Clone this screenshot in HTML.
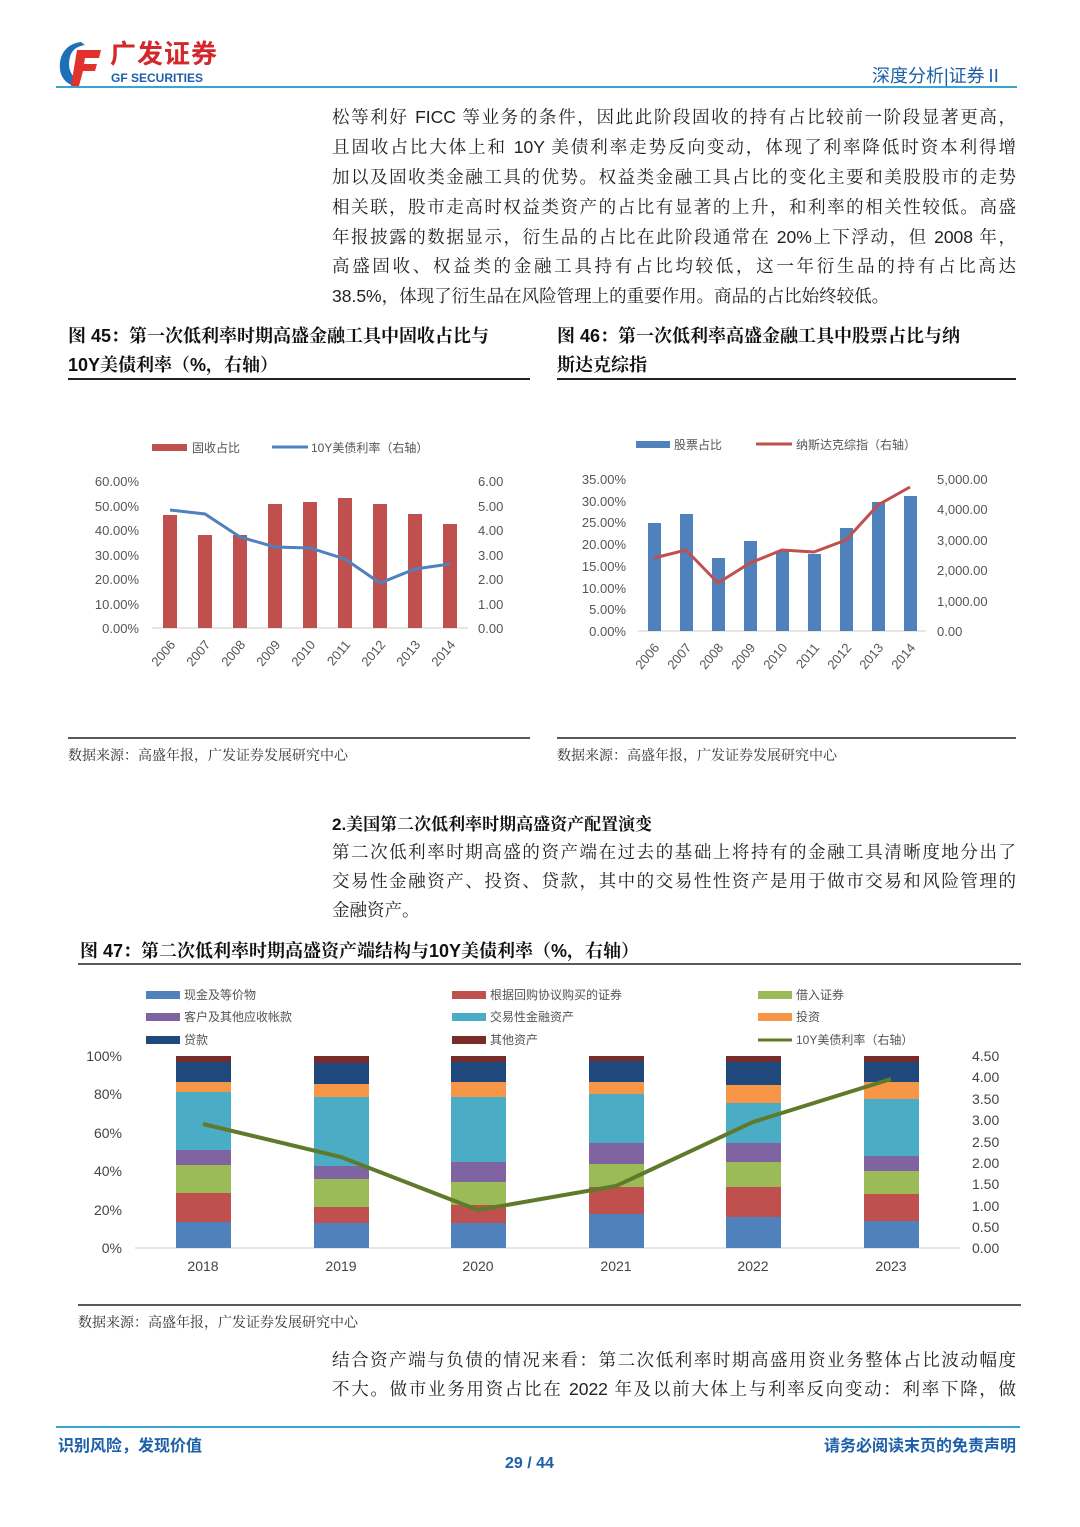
<!DOCTYPE html>
<html><head><meta charset="utf-8"><style>
body{margin:0;width:1080px;height:1527px;background:#fff;position:relative;font-family:"Liberation Sans","Noto Sans CJK SC",sans-serif;color:#222;overflow:hidden}
.a{position:absolute;white-space:nowrap}
.j{position:absolute;left:332px;width:684px;text-align:justify;text-align-last:justify;font-family:"Liberation Sans","Noto Serif CJK SC",serif;font-size:17.5px;height:30px;line-height:30px}
.t{font-weight:bold;font-size:18px;font-family:"Liberation Sans","Noto Serif CJK SC",serif;color:#111}
.src{font-size:14px;font-family:"Liberation Sans","Noto Serif CJK SC",serif;color:#333}
svg text{font-family:"Liberation Sans","Noto Sans CJK SC",sans-serif}
</style></head><body>
<!-- header -->
<svg class="a" style="left:55px;top:40px" width="50" height="48"><path d="M26 2 C8 4 2 20 6 34 C9 42 16 46 22 46 L24 40 C14 36 12 24 16 14 C19 8 24 6 30 5Z" fill="#1d6fb8"/><path d="M22 10 H46 L44 18 H30 L29 24 H42 L40 31 H28 L24 46 H16 Z" fill="#e1322b"/></svg>
<div class="a" style="left:110px;top:38px;font-size:26px;font-weight:bold;color:#d4262b;letter-spacing:1px;line-height:32px">广发证券</div>
<div class="a" style="left:111px;top:72px;font-size:12px;font-weight:bold;color:#1d5fa8;line-height:13px">GF SECURITIES</div>
<div class="a" style="left:872px;top:62px;font-size:18px;color:#1d5fa8">深度分析|证券Ⅱ</div>
<div class="a" style="left:56px;top:86px;width:961px;height:2px;background:#3aa4d0"></div>
<!-- para 1 -->
<div class="j" style="top:102px">松等利好 FICC 等业务的条件，因此此阶段固收的持有占比较前一阶段显著更高，</div>
<div class="j" style="top:132px">且固收占比大体上和 10Y 美债利率走势反向变动，体现了利率降低时资本利得增</div>
<div class="j" style="top:162px">加以及固收类金融工具的优势。权益类金融工具占比的变化主要和美股股市的走势</div>
<div class="j" style="top:192px">相关联，股市走高时权益类资产的占比有显著的上升，和利率的相关性较低。高盛</div>
<div class="j" style="top:222px">年报披露的数据显示，衍生品的占比在此阶段通常在 20%上下浮动，但 2008 年，</div>
<div class="j" style="top:251px">高盛固收、权益类的金融工具持有占比均较低，这一年衍生品的持有占比高达</div>
<div class="j" style="top:281px;text-align-last:left">38.5%，体现了衍生品在风险管理上的重要作用。商品的占比始终较低。</div>
<!-- fig titles -->
<div class="a t" style="left:68px;top:322px">图 45：第一次低利率时期高盛金融工具中固收占比与</div>
<div class="a t" style="left:68px;top:351px">10Y美债利率（%，右轴）</div>
<div class="a" style="left:68px;top:378px;width:462px;height:2px;background:#222"></div>
<div class="a t" style="left:557px;top:322px">图 46：第一次低利率高盛金融工具中股票占比与纳</div>
<div class="a t" style="left:557px;top:351px">斯达克综指</div>
<div class="a" style="left:557px;top:378px;width:459px;height:2px;background:#222"></div>
<svg class="a" style="left:0;top:0" width="1080" height="1527">
<!-- chart45 -->
<g font-size="13" fill="#555">
<rect x="152" y="444" width="35" height="7" fill="#c0504d"/><text x="192" y="452" font-size="12">固收占比</text>
<line x1="272" y1="447" x2="308" y2="447" stroke="#4f81bd" stroke-width="3"/><text x="311" y="452" font-size="12">10Y美债利率（右轴）</text>
<g text-anchor="end"><text x="139" y="486">60.00%</text><text x="139" y="511">50.00%</text><text x="139" y="535">40.00%</text><text x="139" y="560">30.00%</text><text x="139" y="584">20.00%</text><text x="139" y="609">10.00%</text><text x="139" y="633">0.00%</text></g>
<g><text x="478" y="486">6.00</text><text x="478" y="511">5.00</text><text x="478" y="535">4.00</text><text x="478" y="560">3.00</text><text x="478" y="584">2.00</text><text x="478" y="609">1.00</text><text x="478" y="633">0.00</text></g>
<line x1="152" y1="628" x2="468" y2="628" stroke="#ccc"/>
<g fill="#c0504d"><rect x="163" y="515" width="14" height="113"/><rect x="198" y="535" width="14" height="93"/><rect x="233" y="535" width="14" height="93"/><rect x="268" y="504" width="14" height="124"/><rect x="303" y="502" width="14" height="126"/><rect x="338" y="498" width="14" height="130"/><rect x="373" y="504" width="14" height="124"/><rect x="408" y="514" width="14" height="114"/><rect x="443" y="524" width="14" height="104"/></g>
<polyline points="170,510 205,514 240,537 275,547 310,548 345,559 380,583 415,569 450,564" fill="none" stroke="#4f81bd" stroke-width="3"/>
<g text-anchor="end" font-size="13"><text transform="translate(176,645) rotate(-50)">2006</text><text transform="translate(211,645) rotate(-50)">2007</text><text transform="translate(246,645) rotate(-50)">2008</text><text transform="translate(281,645) rotate(-50)">2009</text><text transform="translate(316,645) rotate(-50)">2010</text><text transform="translate(351,645) rotate(-50)">2011</text><text transform="translate(386,645) rotate(-50)">2012</text><text transform="translate(421,645) rotate(-50)">2013</text><text transform="translate(456,645) rotate(-50)">2014</text></g>
</g>
<!-- chart46 -->
<g font-size="13" fill="#555">
<rect x="636" y="441" width="34" height="7" fill="#4f81bd"/><text x="674" y="449" font-size="12">股票占比</text>
<line x1="756" y1="444" x2="792" y2="444" stroke="#c0504d" stroke-width="3"/><text x="796" y="449" font-size="12">纳斯达克综指（右轴）</text>
<g text-anchor="end"><text x="626" y="484">35.00%</text><text x="626" y="506">30.00%</text><text x="626" y="527">25.00%</text><text x="626" y="549">20.00%</text><text x="626" y="571">15.00%</text><text x="626" y="593">10.00%</text><text x="626" y="614">5.00%</text><text x="626" y="636">0.00%</text></g>
<g><text x="937" y="484">5,000.00</text><text x="937" y="514">4,000.00</text><text x="937" y="545">3,000.00</text><text x="937" y="575">2,000.00</text><text x="937" y="606">1,000.00</text><text x="937" y="636">0.00</text></g>
<line x1="638" y1="631" x2="926" y2="631" stroke="#ccc"/>
<g fill="#4f81bd"><rect x="648" y="523" width="13" height="108"/><rect x="680" y="514" width="13" height="117"/><rect x="712" y="558" width="13" height="73"/><rect x="744" y="541" width="13" height="90"/><rect x="776" y="551" width="13" height="80"/><rect x="808" y="554" width="13" height="77"/><rect x="840" y="528" width="13" height="103"/><rect x="872" y="502" width="13" height="129"/><rect x="904" y="496" width="13" height="135"/></g>
<polyline points="654,558 686,550 718,583 750,563 782,550 814,552 846,540 878,505 910,487" fill="none" stroke="#c0504d" stroke-width="3"/>
<g text-anchor="end"><text transform="translate(660,648) rotate(-50)">2006</text><text transform="translate(692,648) rotate(-50)">2007</text><text transform="translate(724,648) rotate(-50)">2008</text><text transform="translate(756,648) rotate(-50)">2009</text><text transform="translate(788,648) rotate(-50)">2010</text><text transform="translate(820,648) rotate(-50)">2011</text><text transform="translate(852,648) rotate(-50)">2012</text><text transform="translate(884,648) rotate(-50)">2013</text><text transform="translate(916,648) rotate(-50)">2014</text></g>
</g>
<line x1="68" y1="738" x2="530" y2="738" stroke="#222" stroke-width="1.5"/>
<line x1="557" y1="738" x2="1016" y2="738" stroke="#222" stroke-width="1.5"/>
<!-- chart47 -->
<g font-size="12" fill="#555">
<rect x="146" y="991" width="34" height="8" fill="#4f81bd"/><text x="184" y="999">现金及等价物</text>
<rect x="452" y="991" width="34" height="8" fill="#c0504d"/><text x="490" y="999">根据回购协议购买的证券</text>
<rect x="758" y="991" width="34" height="8" fill="#9bbb59"/><text x="796" y="999">借入证券</text>
<rect x="146" y="1013" width="34" height="8" fill="#8064a2"/><text x="184" y="1021">客户及其他应收帐款</text>
<rect x="452" y="1013" width="34" height="8" fill="#4bacc6"/><text x="490" y="1021">交易性金融资产</text>
<rect x="758" y="1013" width="34" height="8" fill="#f79646"/><text x="796" y="1021">投资</text>
<rect x="146" y="1036" width="34" height="8" fill="#1f497d"/><text x="184" y="1044">贷款</text>
<rect x="452" y="1036" width="34" height="8" fill="#772c2a"/><text x="490" y="1044">其他资产</text>
<line x1="758" y1="1040" x2="792" y2="1040" stroke="#5e7a2a" stroke-width="3"/><text x="796" y="1044">10Y美债利率（右轴）</text>
</g>
<g font-size="14" fill="#444" text-anchor="end"><text x="122" y="1061">100%</text><text x="122" y="1099">80%</text><text x="122" y="1138">60%</text><text x="122" y="1176">40%</text><text x="122" y="1215">20%</text><text x="122" y="1253">0%</text></g>
<g font-size="14" fill="#444"><text x="972" y="1061">4.50</text><text x="972" y="1082">4.00</text><text x="972" y="1104">3.50</text><text x="972" y="1125">3.00</text><text x="972" y="1147">2.50</text><text x="972" y="1168">2.00</text><text x="972" y="1189">1.50</text><text x="972" y="1211">1.00</text><text x="972" y="1232">0.50</text><text x="972" y="1253">0.00</text></g>
<line x1="135" y1="1248" x2="960" y2="1248" stroke="#ccc"/>
<g>
<rect x="176" y="1222" width="55" height="26" fill="#4f81bd"/><rect x="176" y="1193" width="55" height="29" fill="#c0504d"/><rect x="176" y="1165" width="55" height="28" fill="#9bbb59"/><rect x="176" y="1150" width="55" height="15" fill="#8064a2"/><rect x="176" y="1092" width="55" height="58" fill="#4bacc6"/><rect x="176" y="1082" width="55" height="10" fill="#f79646"/><rect x="176" y="1062" width="55" height="20" fill="#1f497d"/><rect x="176" y="1056" width="55" height="6" fill="#772c2a"/>
<rect x="314" y="1223" width="55" height="25" fill="#4f81bd"/><rect x="314" y="1207" width="55" height="16" fill="#c0504d"/><rect x="314" y="1179" width="55" height="28" fill="#9bbb59"/><rect x="314" y="1166" width="55" height="13" fill="#8064a2"/><rect x="314" y="1097" width="55" height="69" fill="#4bacc6"/><rect x="314" y="1084" width="55" height="13" fill="#f79646"/><rect x="314" y="1063" width="55" height="21" fill="#1f497d"/><rect x="314" y="1056" width="55" height="7" fill="#772c2a"/>
<rect x="451" y="1223" width="55" height="25" fill="#4f81bd"/><rect x="451" y="1205" width="55" height="18" fill="#c0504d"/><rect x="451" y="1182" width="55" height="23" fill="#9bbb59"/><rect x="451" y="1162" width="55" height="20" fill="#8064a2"/><rect x="451" y="1097" width="55" height="65" fill="#4bacc6"/><rect x="451" y="1082" width="55" height="15" fill="#f79646"/><rect x="451" y="1062" width="55" height="20" fill="#1f497d"/><rect x="451" y="1056" width="55" height="6" fill="#772c2a"/>
<rect x="589" y="1214" width="55" height="34" fill="#4f81bd"/><rect x="589" y="1187" width="55" height="27" fill="#c0504d"/><rect x="589" y="1164" width="55" height="23" fill="#9bbb59"/><rect x="589" y="1143" width="55" height="21" fill="#8064a2"/><rect x="589" y="1094" width="55" height="49" fill="#4bacc6"/><rect x="589" y="1082" width="55" height="12" fill="#f79646"/><rect x="589" y="1061" width="55" height="21" fill="#1f497d"/><rect x="589" y="1056" width="55" height="5" fill="#772c2a"/>
<rect x="726" y="1217" width="55" height="31" fill="#4f81bd"/><rect x="726" y="1187" width="55" height="30" fill="#c0504d"/><rect x="726" y="1162" width="55" height="25" fill="#9bbb59"/><rect x="726" y="1143" width="55" height="19" fill="#8064a2"/><rect x="726" y="1103" width="55" height="40" fill="#4bacc6"/><rect x="726" y="1085" width="55" height="18" fill="#f79646"/><rect x="726" y="1062" width="55" height="23" fill="#1f497d"/><rect x="726" y="1056" width="55" height="6" fill="#772c2a"/>
<rect x="864" y="1221" width="55" height="27" fill="#4f81bd"/><rect x="864" y="1194" width="55" height="27" fill="#c0504d"/><rect x="864" y="1171" width="55" height="23" fill="#9bbb59"/><rect x="864" y="1156" width="55" height="15" fill="#8064a2"/><rect x="864" y="1099" width="55" height="57" fill="#4bacc6"/><rect x="864" y="1082" width="55" height="17" fill="#f79646"/><rect x="864" y="1062" width="55" height="20" fill="#1f497d"/><rect x="864" y="1056" width="55" height="6" fill="#772c2a"/>
</g>
<polyline points="203,1124 341,1157 478,1210 616,1186 753,1122 891,1079" fill="none" stroke="#5e7a2a" stroke-width="4"/>
<g font-size="14" fill="#444" text-anchor="middle"><text x="203" y="1271">2018</text><text x="341" y="1271">2019</text><text x="478" y="1271">2020</text><text x="616" y="1271">2021</text><text x="753" y="1271">2022</text><text x="891" y="1271">2023</text></g>
<line x1="78" y1="964" x2="1021" y2="964" stroke="#222" stroke-width="1.5"/>
<line x1="78" y1="1305" x2="1021" y2="1305" stroke="#222" stroke-width="1.5"/>
</svg>
<div class="a src" style="left:68px;top:745px">数据来源：高盛年报，广发证券发展研究中心</div>
<div class="a src" style="left:557px;top:745px">数据来源：高盛年报，广发证券发展研究中心</div>
<div class="a t" style="left:332px;top:810px;font-size:17px">2.美国第二次低利率时期高盛资产配置演变</div>
<div class="j" style="top:837px">第二次低利率时期高盛的资产端在过去的基础上将持有的金融工具清晰度地分出了</div>
<div class="j" style="top:866px">交易性金融资产、投资、贷款，其中的交易性性资产是用于做市交易和风险管理的</div>
<div class="j" style="top:895px;text-align-last:left">金融资产。</div>
<div class="a t" style="left:80px;top:937px">图 47：第二次低利率时期高盛资产端结构与10Y美债利率（%，右轴）</div>
<div class="a src" style="left:78px;top:1312px">数据来源：高盛年报，广发证券发展研究中心</div>
<div class="j" style="top:1345px">结合资产端与负债的情况来看：第二次低利率时期高盛用资业务整体占比波动幅度</div>
<div class="j" style="top:1374px">不大。做市业务用资占比在 2022 年及以前大体上与利率反向变动：利率下降，做</div>
<div class="a" style="left:56px;top:1426px;width:964px;height:2px;background:#3aa4d0"></div>
<div class="a" style="left:58px;top:1432px;font-size:16px;font-weight:bold;color:#1d5fa8">识别风险，发现价值</div>
<div class="a" style="left:824px;top:1432px;font-size:16px;font-weight:bold;color:#1d5fa8">请务必阅读末页的免责声明</div>
<div class="a" style="left:505px;top:1455px;font-size:16px;font-weight:bold;color:#1d5fa8">29 / 44</div>
</body></html>
